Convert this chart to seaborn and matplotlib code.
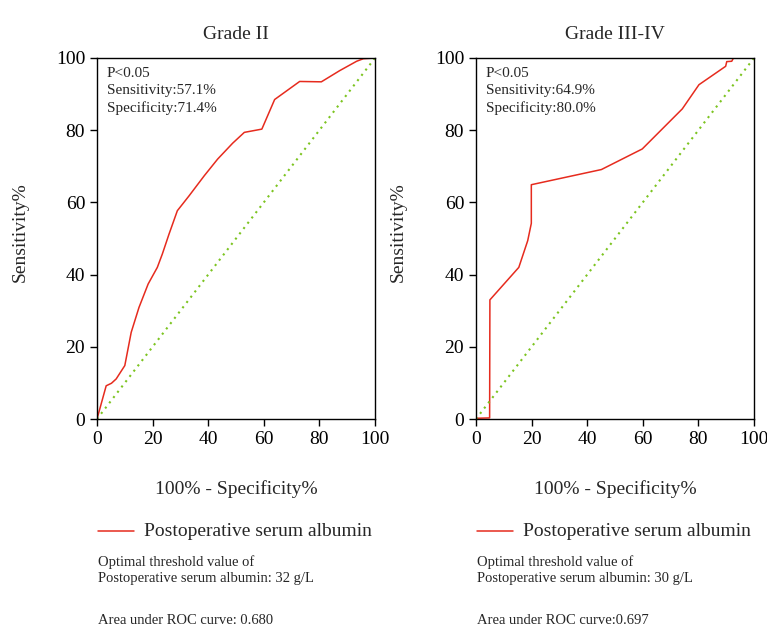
import matplotlib
matplotlib.use("Agg")
import matplotlib.pyplot as plt
import seaborn as sns
import pandas as pd

# Grade II ROC curve
g2_fpr = [0, 3.3, 5.2, 6.9, 10.0, 12.3, 15.1, 18.4, 21.7, 23.5, 25.9, 28.9, 33.1, 38.6,
          43.4, 48.8, 53.0, 59.3, 63.9, 72.9, 80.7, 87.3, 93.4, 95.8, 100]
g2_tpr = [0, 9.2, 9.9, 11.1, 14.8, 24.0, 30.9, 37.4, 42.0, 45.7, 51.2, 57.7, 61.8, 67.4,
          72.0, 76.4, 79.4, 80.3, 88.5, 93.5, 93.4, 96.5, 99.1, 99.8, 100]
# Grade III-IV ROC curve
g3_fpr = [0, 4.9, 5.0, 15.4, 18.6, 19.9, 19.9, 45.1, 59.8, 74.2, 80.2, 89.8, 90.2, 92.0, 92.6, 100]
g3_tpr = [0.2, 0.3, 33.0, 42.0, 49.4, 54.2, 64.9, 69.1, 74.8, 85.9, 92.6, 97.7, 99.0, 99.1, 100, 100]

ref_line = [0, 100]
ticks = [0, 20, 40, 60, 80, 100]

titles = ["Grade II", "Grade III-IV"]
annots = ["P<0.05\nSensitivity:57.1%\nSpecificity:71.4%",
          "P<0.05\nSensitivity:64.9%\nSpecificity:80.0%"]
legend_label = "Postoperative serum albumin"
notes = ["Optimal threshold value of\nPostoperative serum albumin: 32 g/L",
         "Optimal threshold value of\nPostoperative serum albumin: 30 g/L"]
aucs = ["Area under ROC curve: 0.680", "Area under ROC curve:0.697"]

sns.set_style("ticks")
plt.rcParams['font.family'] = ['Liberation Serif', 'DejaVu Serif']

fig = plt.figure(figsize=(7.67, 6.27), dpi=100)
W, H = 767, 627
red = "#e62b1e"
green = "#7cc420"

panels = [(g2_fpr, g2_tpr, 97), (g3_fpr, g3_tpr, 476)]
for i, (fx, ty, left_px) in enumerate(panels):
    ax = fig.add_axes([left_px / W, 1 - 419 / H, 278 / W, (419 - 58) / H])
    df = pd.DataFrame({"fpr": fx, "tpr": ty})
    sns.lineplot(data=df, x="fpr", y="tpr", sort=False, color=red, lw=1.1, ax=ax,
                 estimator=None)
    sns.lineplot(x=ref_line, y=ref_line, color=green, lw=1.5, ls=(0, (1, 2.2)), ax=ax)
    ax.set_xlim(0, 100)
    ax.set_ylim(0, 100)
    ax.set_xticks(ticks)
    ax.set_yticks(ticks)
    ax.tick_params(labelsize=14, length=5, width=1, direction="out", colors="black")
    for s in ax.spines.values():
        s.set_linewidth(1.0)
        s.set_color("black")
    ax.set_xlabel("")
    ax.set_ylabel("Sensitivity%", fontsize=14)
    ax.yaxis.set_label_coords(-0.244 if i == 0 else -0.249, 0.518)
    ax.set_title(titles[i], fontsize=14, pad=14)
    ax.text(0.035, 0.975, annots[i], transform=ax.transAxes, va="top", ha="left",
            fontsize=11, linespacing=1.4)
    cx = (left_px + 139) / W
    fig.text(cx, 1 - 489 / H, "100% - Specificity%", ha="center", va="center", fontsize=14)
    # legend line + text
    lx0 = (left_px + 1) / W
    fig.add_artist(plt.Line2D([lx0, lx0 + 36 / W], [1 - 531 / H] * 2, color=red, lw=1.1))
    fig.text(lx0 + 46 / W, 1 - 531 / H, legend_label, ha="left", va="center", fontsize=14)
    fig.text(lx0, 1 - 570 / H, notes[i], ha="left", va="center", fontsize=10.5, linespacing=1.3)
    fig.text(lx0, 1 - 620 / H, aucs[i], ha="left", va="center", fontsize=10.5)

fig.savefig("out.png", dpi=100)
